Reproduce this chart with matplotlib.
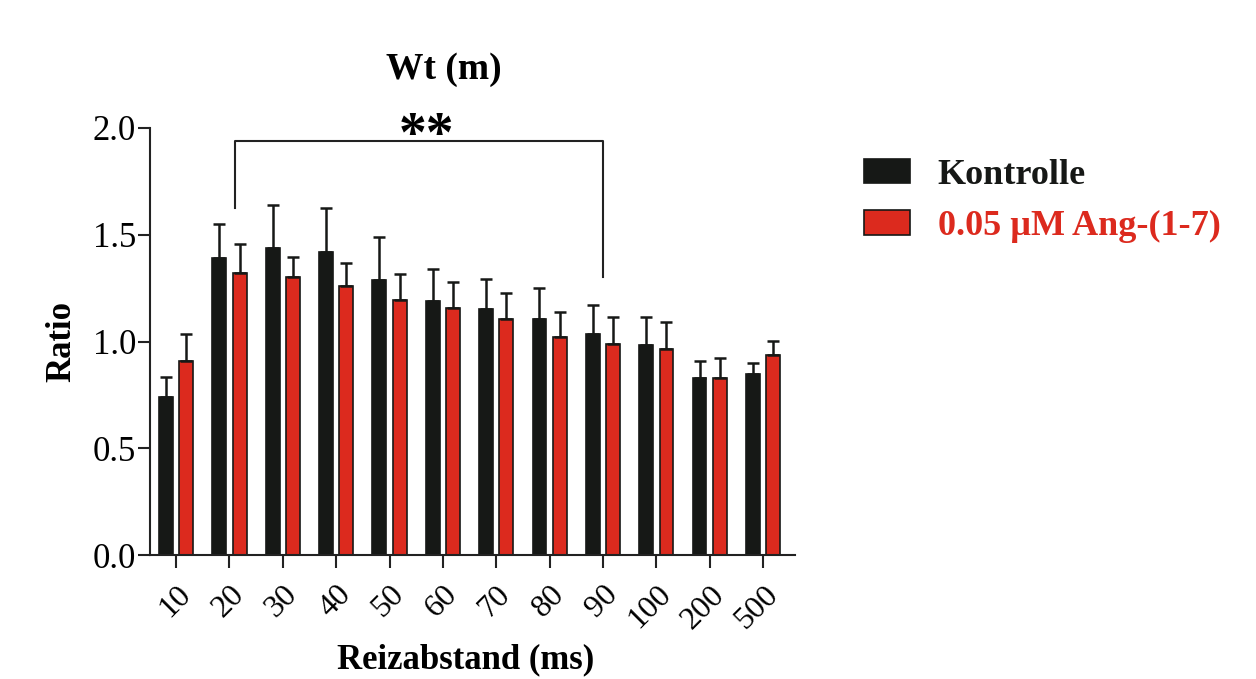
import numpy as np
import matplotlib.pyplot as plt

# Werte
categories = ['10', '20', '30', '40', '50', '60', '70', '80', '90', '100', '200', '500']
kontrolle = [0.74, 1.39, 1.44, 1.42, 1.29, 1.19, 1.15, 1.105, 1.035, 0.985, 0.83, 0.85]
kontrolle_err = [0.095, 0.16, 0.20, 0.205, 0.20, 0.15, 0.145, 0.145, 0.135, 0.13, 0.08, 0.047]
ang = [0.91, 1.32, 1.30, 1.26, 1.195, 1.155, 1.105, 1.02, 0.99, 0.965, 0.83, 0.935]
ang_err = [0.125, 0.135, 0.095, 0.11, 0.12, 0.125, 0.12, 0.118, 0.125, 0.125, 0.095, 0.068]

black = '#161816'
red = '#dc2a1e'

plt.rcParams['font.family'] = ['Liberation Serif', 'DejaVu Serif']
plt.rcParams['font.weight'] = 'bold'

fig = plt.figure(figsize=(12.56, 6.79), dpi=100)
ax = fig.add_axes([0.1194, 0.1826, 0.5136, 0.6289])

x = np.arange(len(categories))
w = 0.26
off = 0.19
err_kw = dict(ecolor=black, elinewidth=1.8, capsize=4, capthick=1.8)
ax.bar(x - off, kontrolle, w, color=black, edgecolor=black, linewidth=1.2,
       yerr=[np.zeros(len(x)), kontrolle_err], error_kw=err_kw, label='Kontrolle')
ax.bar(x + off, ang, w, color=red, edgecolor=black, linewidth=1.2,
       yerr=[np.zeros(len(x)), ang_err], error_kw=err_kw, label='0.05 µM Ang-(1-7)')

ax.set_xlim(-0.49, 11.6)
ax.set_ylim(0, 2.0)
ax.set_yticks([0, 0.5, 1.0, 1.5, 2.0])
ax.set_yticklabels(['0.0', '0.5', '1.0', '1.5', '2.0'], fontweight='normal', fontsize=25)
ax.set_xticks(x)
ax.set_xticklabels(categories, rotation=45, ha='right', rotation_mode='anchor',
                   fontweight='normal', fontsize=23)
ax.tick_params(axis='both', direction='out', length=9, width=1.5, color='#222222')
ax.tick_params(axis='x', pad=9)
ax.tick_params(axis='y', pad=1)

for s in ['top', 'right']:
    ax.spines[s].set_visible(False)
for s in ['left', 'bottom']:
    ax.spines[s].set_linewidth(1.5)
    ax.spines[s].set_color('#222222')

ax.set_ylabel('Ratio', fontsize=25, fontweight='bold', labelpad=10)
ax.set_xlabel('Reizabstand (ms)', fontsize=25, fontweight='bold', va='center')
ax.xaxis.set_label_coords(0.49, -0.246)

# Signifikanzklammer
ax.plot([1.1, 1.1, 8.0, 8.0], [1.625, 1.94, 1.94, 1.30], color='#222222', lw=1.5, clip_on=False)
ax.text(4.7, 1.89, '**', fontsize=40, fontweight='bold', ha='center', va='baseline')

fig.text(0.353, 0.897, 'Wt (m)', fontsize=27, fontweight='bold', ha='center', va='center')

leg = fig.legend(loc='upper left', bbox_to_anchor=(0.676, 0.787), frameon=False,
                 fontsize=26, handlelength=1.3, handleheight=0.65, handletextpad=0.75,
                 labelspacing=0.5, borderaxespad=0)
leg.get_texts()[0].set_color(black)
leg.get_texts()[1].set_color(red)

fig.savefig('out.png', dpi=100)
